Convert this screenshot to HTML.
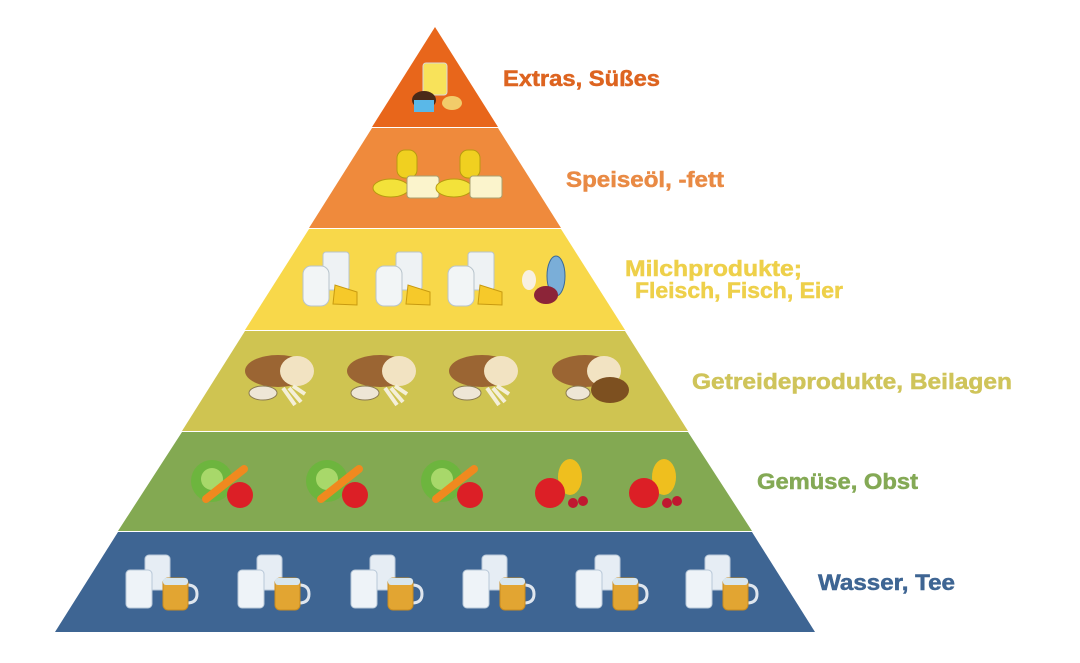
<!DOCTYPE html>
<html><head><meta charset="utf-8"><style>
html,body{margin:0;padding:0;background:#fff;}
svg{display:block;}
text{font-family:"Liberation Sans",sans-serif;font-weight:bold;font-size:22px;stroke-width:0.5;}
</style></head><body>
<svg width="1080" height="663" viewBox="0 0 1080 663" xmlns="http://www.w3.org/2000/svg">
<defs>
 <g id="water">
  <rect x="-15" y="-28" width="25" height="35" rx="4" fill="#e6edf4" stroke="#b8c8d8"/>
  <rect x="-34" y="-13" width="26" height="38" rx="4" fill="#eef3f8" stroke="#b8c8d8"/>
  <path d="M27,2 q10,0 10,9 q0,9 -10,9" fill="none" stroke="#dfe6ee" stroke-width="3"/>
  <rect x="3" y="-5" width="25" height="32" rx="5" fill="#e2a532" stroke="#c88a20"/>
  <rect x="3" y="-5" width="25" height="7" rx="3" fill="#d8e6ee"/>
 </g>
 <g id="veg">
  <circle cx="-10" cy="-2" r="21" fill="#6db53e"/>
  <circle cx="-10" cy="-4" r="11" fill="#a8d86a"/>
  <line x1="-16" y1="16" x2="22" y2="-14" stroke="#f0891f" stroke-width="8" stroke-linecap="round"/>
  <circle cx="18" cy="12" r="13" fill="#dc1f26"/>
 </g>
 <g id="fruit">
  <ellipse cx="10" cy="-6" rx="12" ry="18" fill="#efbf1e"/>
  <circle cx="-10" cy="10" r="15" fill="#dc1f26"/>
  <circle cx="13" cy="20" r="5" fill="#c01830"/>
  <circle cx="23" cy="18" r="5" fill="#c01830"/>
 </g>
 <g id="bread">
  <ellipse cx="-5" cy="-9" rx="33" ry="16" fill="#9b6533"/>
  <ellipse cx="14" cy="-9" rx="17" ry="15" fill="#f2e3c2"/>
  <ellipse cx="-20" cy="13" rx="14" ry="7" fill="#eee6d6" stroke="#8a7a50"/>
  <path d="M0,8 L12,25 M6,8 L18,22 M10,6 L22,14" stroke="#f4efd8" stroke-width="4"/>
 </g>
 <g id="milk">
  <rect x="-7" y="-28" width="26" height="38" rx="3" fill="#eef2f4" stroke="#b8c4cc"/>
  <rect x="-27" y="-14" width="26" height="40" rx="8" fill="#f2f5f6" stroke="#b8c4cc"/>
  <path d="M3,24 L5,5 L27,12 L27,25 Z" fill="#f6c92a" stroke="#c89a10"/>
 </g>
 <g id="oil">
  <rect x="-8" y="-28" width="20" height="28" rx="8" fill="#f0d020" stroke="#b89a10"/>
  <ellipse cx="-14" cy="10" rx="18" ry="9" fill="#f3e23a" stroke="#b89a10"/>
  <rect x="2" y="-2" width="32" height="22" rx="3" fill="#fbf4cc" stroke="#a8a070"/>
 </g>
</defs>

<polygon points="435,27 498,127 372,127" fill="#e8661b"/>
<polygon points="372,128 498,128 561,228 309,228" fill="#ef8a3c"/>
<polygon points="309,229 561,229 625,330 245,330" fill="#f8d84a"/>
<polygon points="245,331 625,331 688,431 182,431" fill="#cfc451"/>
<polygon points="182,432 688,432 752,531 118,531" fill="#83a952"/>
<polygon points="118,532 752,532 815,632 55,632" fill="#3e6593"/>

<g>
 <rect x="423" y="63" width="24" height="32" rx="3" fill="#f8e25a" stroke="#d8d8d8"/>
 <ellipse cx="424" cy="100" rx="12" ry="9" fill="#4a2a18"/>
 <rect x="414" y="100" width="20" height="12" fill="#5ab8e8"/>
 <ellipse cx="452" cy="103" rx="10" ry="7" fill="#f2cc6a"/>
</g>
<use href="#oil" x="405" y="178"/><use href="#oil" x="468" y="178"/>
<use href="#milk" x="330" y="280"/><use href="#milk" x="403" y="280"/><use href="#milk" x="475" y="280"/>
<g>
 <ellipse cx="529" cy="280" rx="7" ry="10" fill="#f8f0e0"/>
 <ellipse cx="556" cy="276" rx="9" ry="20" fill="#7aaed8" stroke="#3a6a98"/>
 <ellipse cx="546" cy="295" rx="12" ry="9" fill="#8c2438"/>
</g>
<use href="#bread" x="283" y="380"/><use href="#bread" x="385" y="380"/><use href="#bread" x="487" y="380"/>
<g>
 <ellipse cx="585" cy="371" rx="33" ry="16" fill="#9b6533"/>
 <ellipse cx="604" cy="371" rx="17" ry="15" fill="#f2e3c2"/>
 <ellipse cx="578" cy="393" rx="12" ry="7" fill="#eee6d6" stroke="#8a7a50"/>
 <ellipse cx="610" cy="390" rx="19" ry="13" fill="#7d5020"/>
</g>
<use href="#veg" x="222" y="483"/><use href="#veg" x="337" y="483"/><use href="#veg" x="452" y="483"/>
<use href="#fruit" x="560" y="483"/><use href="#fruit" x="654" y="483"/>
<use href="#water" x="160" y="583"/><use href="#water" x="272" y="583"/><use href="#water" x="385" y="583"/>
<use href="#water" x="497" y="583"/><use href="#water" x="610" y="583"/><use href="#water" x="720" y="583"/>

<text x="503" y="86" fill="#dd6420" stroke="#dd6420" textLength="157" lengthAdjust="spacingAndGlyphs">Extras, Süßes</text>
<text x="566" y="187" fill="#e98a44" stroke="#e98a44" textLength="158" lengthAdjust="spacingAndGlyphs">Speiseöl, -fett</text>
<text x="625" y="276" fill="#eed04a" stroke="#eed04a" textLength="177" lengthAdjust="spacingAndGlyphs">Milchprodukte;</text>
<text x="635" y="298" fill="#eed04a" stroke="#eed04a" textLength="208" lengthAdjust="spacingAndGlyphs">Fleisch, Fisch, Eier</text>
<text x="692" y="389" fill="#cfc45a" stroke="#cfc45a" textLength="320" lengthAdjust="spacingAndGlyphs">Getreideprodukte, Beilagen</text>
<text x="757" y="489" fill="#84a955" stroke="#84a955" textLength="161" lengthAdjust="spacingAndGlyphs">Gemüse, Obst</text>
<text x="818" y="590" fill="#3e6593" stroke="#3e6593" textLength="137" lengthAdjust="spacingAndGlyphs">Wasser, Tee</text>
</svg>
</body></html>
